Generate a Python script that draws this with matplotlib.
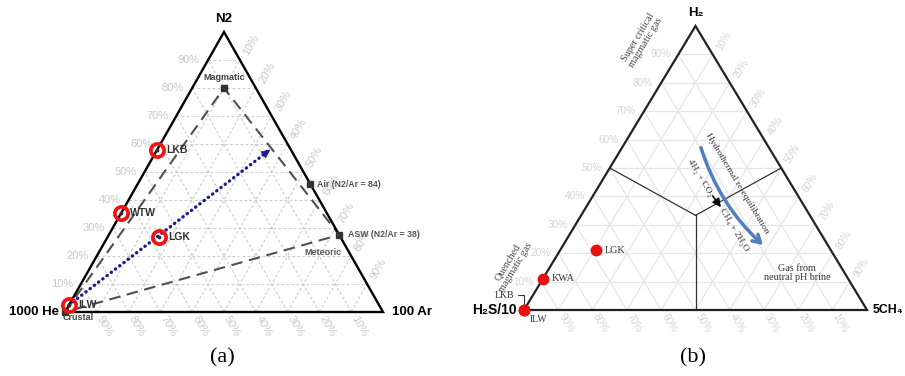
import numpy as np
import matplotlib
matplotlib.use("Agg")
import matplotlib.pyplot as plt
from matplotlib.patches import FancyArrowPatch

plt.rcParams['font.family'] = ['Liberation Sans', 'DejaVu Sans']

SERIF = ['Liberation Serif', 'DejaVu Serif']

# ---------------- panel (a): 1000He - 100Ar - N2 ----------------
a_samples = ["LKB", "WTW", "LGK", "ILW"]
a_n2 = [57.9, 35.4, 26.8, 2.5]          # % N2
a_ar = [0.0, 0.0, 16.2, 0.0]            # % 100Ar
magmatic_he, magmatic_ar, magmatic_n2 = 10, 10, 80
air_ratio = 84                           # N2/Ar of air
asw_ratio = 38                           # N2/Ar of air-saturated water
trend_end_n2, trend_end_ar = 58.0, 35.5  # end of the dotted trend arrow

# ---------------- panel (b): H2S/10 - 5CH4 - H2 ----------------
b_samples = ["LGK", "KWA", "LKB", "ILW"]
b_h2 = [21.0, 11.0, 0.0, 0.0]            # % H2
b_ch4 = [10.5, 0.0, 0.0, 0.0]            # % 5CH4
# hydrothermal re-equilibration arrow (H2 %, 5CH4 %) start / end
reeq_start = (58.1, 22.3)
reeq_end = (22.2, 59.2)

ticks = [10, 20, 30, 40, 50, 60, 70, 80, 90]

W, H = 905, 376
fig = plt.figure(figsize=(W / 100, H / 100), dpi=100)


def to_xy(left, right, top):
    s = left + right + top
    r, t = right / s, top / s
    return r + t / 2.0, t


def disp(ax, p):
    return ax.transData.transform(p)


def unit(v):
    v = np.asarray(v, float)
    return v / np.hypot(*v)


def frame(ax, lw=1.6, color='black'):
    pts = [to_xy(1, 0, 0), to_xy(0, 1, 0), to_xy(0, 0, 1), to_xy(1, 0, 0)]
    ax.plot([p[0] for p in pts], [p[1] for p in pts], color=color, lw=lw,
            solid_joinstyle='miter', zorder=3, clip_on=False)


def grid(ax, **kw):
    for k in ticks:
        f = k / 100.0
        segs = [((1 - f, 0, f), (0, 1 - f, f)),
                ((1 - f, f, 0), (0, f, 1 - f)),
                ((f, 1 - f, 0), (f, 0, 1 - f))]
        for p, q in segs:
            a, b = to_xy(*p), to_xy(*q)
            ax.plot([a[0], b[0]], [a[1], b[1]], zorder=1, **kw)


def tick_labels(ax, size, color, off_left=8, off_bottom=5, off_right=6):
    for k in ticks:
        f = k / 100.0
        txt = f"{k}%"
        # top component (horizontal lines) labelled on the left edge
        p = to_xy(1 - f, 0, f)
        ax.annotate(txt, p, xytext=(-off_left, 0), textcoords='offset pixels',
                    ha='right', va='center', fontsize=size, color=color)
        # left component labelled under the base
        p = to_xy(f, 1 - f, 0)
        d = unit(disp(ax, p) - disp(ax, to_xy(f, 0, 1 - f)))
        ang = np.degrees(np.arctan2(d[1], d[0]))
        ax.annotate(txt, p, xytext=tuple(d * off_bottom), textcoords='offset pixels',
                    rotation=ang, rotation_mode='anchor', ha='left', va='center',
                    fontsize=size, color=color)
        # right component labelled on the right edge
        p = to_xy(0, f, 1 - f)
        d = unit(disp(ax, p) - disp(ax, to_xy(1 - f, f, 0)))
        ang = np.degrees(np.arctan2(d[1], d[0]))
        ax.annotate(txt, p, xytext=tuple(d * off_right + np.array([3, 0])),
                    textcoords='offset pixels', rotation=ang, rotation_mode='anchor',
                    ha='left', va='center', fontsize=size, color=color)


# =================== panel (a) ===================
ax_a = fig.add_axes([0, 0, 452 / W, 1])
ax_a.set_xlim(-65 / 318, (452 - 65) / 318)
ax_a.set_ylim(-(376 - 312) / 280, 312 / 280)
ax_a.axis('off')

grid(ax_a, color='#cbcbcb', lw=0.8, linestyle=(0, (2.5, 2)))
tick_labels(ax_a, 8, '#c8c8c8')
frame(ax_a, lw=1.7)

crustal = to_xy(100, 0, 0)
magmatic = to_xy(magmatic_he, magmatic_ar, magmatic_n2)
air = to_xy(0, 100, air_ratio)
asw = to_xy(0, 100, asw_ratio)

loop = [crustal, magmatic, asw, crustal]
ax_a.plot([p[0] for p in loop], [p[1] for p in loop], color='#505050', lw=1.5,
          dashes=(5.5, 3.2), zorder=2)
for p in [crustal, magmatic, air, asw]:
    ax_a.plot(*p, 's', ms=4, color='#333333', zorder=4, clip_on=False)

ax_a.annotate('Magmatic', magmatic, xytext=(0, 11), textcoords='offset pixels',
              ha='center', va='center', fontsize=6.5, fontweight='bold', color='#444444')
ax_a.annotate(f'Air (N2/Ar = {air_ratio})', air, xytext=(7, 0), textcoords='offset pixels',
              ha='left', va='center', fontsize=6.3, fontweight='bold', color='#555555')
ax_a.annotate(f'ASW (N2/Ar = {asw_ratio})', asw, xytext=(9, 0), textcoords='offset pixels',
              ha='left', va='center', fontsize=6.3, fontweight='bold', color='#555555')
ax_a.annotate('Meteoric', asw, xytext=(-16, -18), textcoords='offset pixels',
              ha='center', va='center', fontsize=6.5, fontweight='bold', color='#555555')
ax_a.annotate('Crustal', crustal, xytext=(13, -6), textcoords='offset pixels',
              ha='center', va='center', fontsize=6.5, fontweight='bold', color='#444444')

# dotted trend arrow from ILW
ilw_a = to_xy(100 - a_n2[3] - a_ar[3], a_ar[3], a_n2[3])
tend = to_xy(100 - trend_end_n2 - trend_end_ar, trend_end_ar, trend_end_n2)
ax_a.plot([ilw_a[0], tend[0]], [ilw_a[1], tend[1]], color='#1c1c8c', lw=2.4,
          linestyle=(0, (0.1, 1.5)), dash_capstyle='round', zorder=4)
back = (tend[0] - 0.03 * (tend[0] - ilw_a[0]), tend[1] - 0.03 * (tend[1] - ilw_a[1]))
ax_a.annotate('', xy=tend, xytext=back,
              arrowprops=dict(arrowstyle='-|>', color='#1c1c8c', lw=0.5,
                              mutation_scale=14, shrinkA=0, shrinkB=0), zorder=5)

for name, n2, ar in zip(a_samples, a_n2, a_ar):
    p = to_xy(100 - n2 - ar, ar, n2)
    ax_a.plot(*p, 'o', ms=9.5, mfc='none', mec='#ee1515', mew=2.7, zorder=6, clip_on=False)
    ax_a.plot(*p, 'o', ms=1.8, color='#333333', zorder=7, clip_on=False)
    ax_a.annotate(name, p, xytext=(9, 0), textcoords='offset pixels', ha='left',
                  va='center', fontsize=7.5, fontweight='bold', color='#333333', zorder=8)

ax_a.annotate('N2', to_xy(0, 0, 1), xytext=(0, 13), textcoords='offset pixels',
              ha='center', va='center', fontsize=9.5, fontweight='bold')
ax_a.annotate('1000 He', to_xy(1, 0, 0), xytext=(-6, 0), textcoords='offset pixels',
              ha='right', va='center', fontsize=9.5, fontweight='bold')
ax_a.annotate('100 Ar', to_xy(0, 1, 0), xytext=(9, 0), textcoords='offset pixels',
              ha='left', va='center', fontsize=9.5, fontweight='bold')
ax_a.text(0.494, -0.164, '(a)', ha='center', va='center', fontsize=16, family=SERIF)

# =================== panel (b) ===================
ax_b = fig.add_axes([452 / W, 0, 453 / W, 1])
ax_b.set_xlim((452 - 524) / 343, (905 - 524) / 343)
ax_b.set_ylim(-(376 - 310) / 284, 310 / 284)
ax_b.axis('off')

grid(ax_b, color='#e6e6e6', lw=0.9)
tick_labels(ax_b, 7.2, '#d4d4d4')
frame(ax_b, lw=1.6, color='#222222')

# field boundaries: centroid to edge midpoints
centroid = to_xy(1, 1, 1)
for mid in [to_xy(1, 0, 1), to_xy(0, 1, 1), to_xy(1, 1, 0)]:
    ax_b.plot([centroid[0], mid[0]], [centroid[1], mid[1]], color='#333333', lw=0.9, zorder=2)

# hydrothermal re-equilibration arrow
s = to_xy(100 - sum(reeq_start), reeq_start[1], reeq_start[0])
e = to_xy(100 - sum(reeq_end), reeq_end[1], reeq_end[0])
ax_b.add_patch(FancyArrowPatch(s, e, connectionstyle='arc3,rad=0.14',
                               arrowstyle='->,head_length=5.5,head_width=3.2',
                               color='#4f7fc0', lw=2.5, zorder=4))
ax_b.text(0.621, 0.447, 'Hydrothermal re-equilibration', rotation=-59,
          rotation_mode='anchor', ha='center', va='center', fontsize=6.8,
          family=SERIF, color='#333333', zorder=5)
ax_b.text(0.513, 0.465, '4H\u2082 + CO\u2082', rotation=-59, rotation_mode='anchor',
          ha='center', va='center', fontsize=6.8, family=SERIF, color='#333333')
ax_b.text(0.612, 0.282, 'CH\u2084 + 2H\u2082O', rotation=-59, rotation_mode='anchor',
          ha='center', va='center', fontsize=6.8, family=SERIF, color='#333333')
ax_b.annotate('', xy=(0.574, 0.362), xytext=(0.550, 0.402),
              arrowprops=dict(arrowstyle='-|>,head_length=0.5,head_width=0.25',
                              color='black', lw=1.1, shrinkA=0, shrinkB=0))

ax_b.text(0.796, 0.130, 'Gas from\nneutral pH brine', ha='center', va='center',
          fontsize=7.3, family=SERIF, color='#333333', linespacing=1.1)
ax_b.text(0.344, 0.951, 'Super critical\nmagmatic gas', rotation=59,
          rotation_mode='anchor', ha='center', va='center', fontsize=7.3,
          family=SERIF, color='#444444', linespacing=1.05)
ax_b.text(-0.035, 0.158, 'Quenched\nmagmatic gas', rotation=59,
          rotation_mode='anchor', ha='center', va='center', fontsize=7.3,
          family=SERIF, color='#444444', linespacing=1.05)

for name, h2, ch4 in zip(b_samples, b_h2, b_ch4):
    p = to_xy(100 - h2 - ch4, ch4, h2)
    ax_b.plot(*p, 'o', ms=7.5, color='#e81010', zorder=6, clip_on=False)
    if name in ("LGK", "KWA"):
        ax_b.annotate(name, p, xytext=(9, 0), textcoords='offset pixels', ha='left',
                      va='center', fontsize=7.3, family=SERIF, color='#333333')

corner_b = to_xy(100 - b_h2[2] - b_ch4[2], b_ch4[2], b_h2[2])
ax_b.annotate('LKB', corner_b, xytext=(-20, 15), textcoords='offset pixels',
              ha='center', va='center', fontsize=7, family=SERIF, color='#333333',
              arrowprops=dict(arrowstyle='-', color='#333333', lw=0.8, shrinkA=1, shrinkB=4,
                              connectionstyle='angle,angleA=0,angleB=90,rad=0'))
ax_b.annotate('ILW', corner_b, xytext=(14, -10), textcoords='offset pixels',
              ha='center', va='center', fontsize=7, family=SERIF, color='#333333',
              arrowprops=dict(arrowstyle='-', color='#333333', lw=0.8, shrinkA=5, shrinkB=3))

ax_b.annotate('H\u2082', to_xy(0, 0, 1), xytext=(0, 13), textcoords='offset pixels',
              ha='center', va='center', fontsize=9.5, fontweight='bold')
ax_b.annotate('H\u2082S/10', to_xy(1, 0, 0), xytext=(-7, 0), textcoords='offset pixels',
              ha='right', va='center', fontsize=10, fontweight='bold')
ax_b.annotate('5CH\u2084', to_xy(0, 1, 0), xytext=(6, 0), textcoords='offset pixels',
              ha='left', va='center', fontsize=8.8, fontweight='bold', annotation_clip=False)
ax_b.text(0.493, -0.169, '(b)', ha='center', va='center', fontsize=16, family=SERIF)

fig.savefig('out.png', dpi=100)
